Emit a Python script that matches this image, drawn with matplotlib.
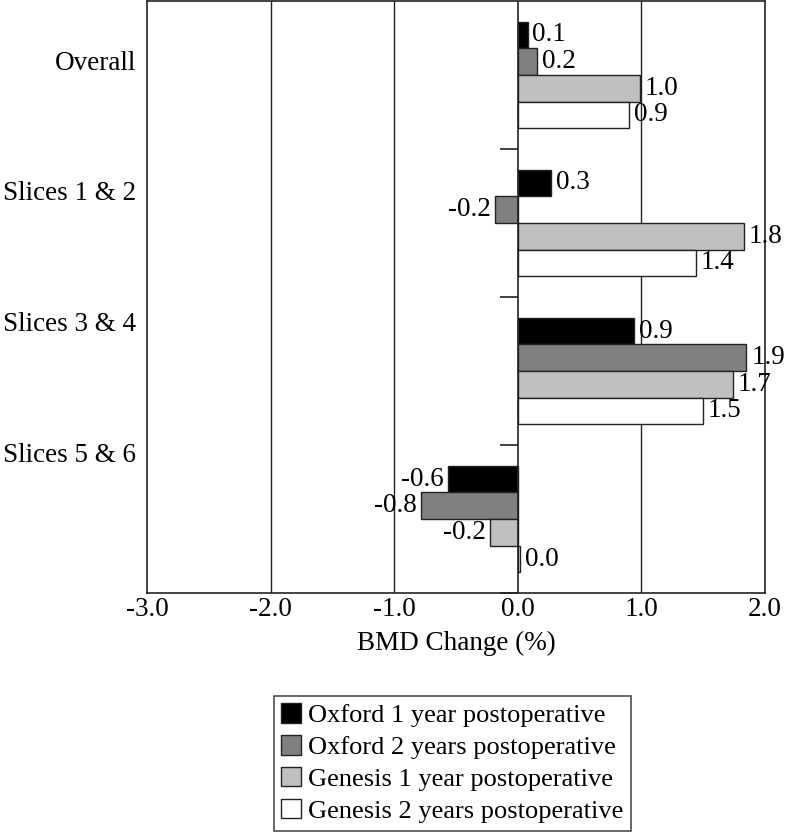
import numpy as np
import matplotlib.pyplot as plt
from matplotlib.patches import Patch

plt.rcParams['font.family'] = ['Liberation Serif', 'DejaVu Serif']
plt.rcParams['font.size'] = 19.5

categories = ['Overall', 'Slices 1 & 2', 'Slices 3 & 4', 'Slices 5 & 6']
series = ['Oxford 1 year postoperative', 'Oxford 2 years postoperative',
          'Genesis 1 year postoperative', 'Genesis 2 years postoperative']
oxford_1y = [0.08, 0.27, 0.94, -0.56]
oxford_2y = [0.16, -0.18, 1.85, -0.78]
genesis_1y = [0.99, 1.83, 1.74, -0.22]
genesis_2y = [0.90, 1.44, 1.50, 0.02]
colors = ['#000000', '#808080', '#c0c0c0', '#ffffff']

fig = plt.figure(figsize=(7.86, 8.33), dpi=100)
ax = fig.add_axes([0.187, 0.288, 0.786, 0.711])

bar_h = 0.18
start = 0.14
for j, vals in enumerate([oxford_1y, oxford_2y, genesis_1y, genesis_2y]):
    y = np.arange(len(categories)) + start + bar_h * (j + 0.5)
    ax.barh(y, vals, height=bar_h, color=colors[j], edgecolor='#222222',
            linewidth=1, zorder=3)
    for yy, v in zip(y, vals):
        if v >= 0:
            ax.text(v + 0.04, yy, f'{v:.1f}', ha='left', va='center', zorder=4)
        else:
            ax.text(v - 0.04, yy, f'{v:.1f}', ha='right', va='center', zorder=4)

ax.set_xlim(-3, 2)
ax.set_ylim(4, 0)
ax.set_xticks(np.arange(-3, 2.01, 1.0))
ax.set_xticklabels([f'{t:.1f}' for t in np.arange(-3, 2.01, 1.0)])
ax.tick_params(axis='x', length=0, pad=3)
ax.set_yticks([])

# vertical gridlines and the zero axis with its group ticks
for gx in [-2, -1, 1]:
    ax.axvline(gx, color='#222222', lw=1, zorder=1)
ax.axvline(0, color='#222222', lw=1.2, zorder=5)
ax.hlines(np.arange(1, 5), -0.14, 0, color='#222222', lw=1.2, zorder=5,
          clip_on=False)

for s in ax.spines.values():
    s.set_color('#222222')
    s.set_linewidth(1.2)

# category labels (evenly spread down the left side)
for i, c in enumerate(categories):
    ax.text(-3.09, 0.42 + 0.883 * i, c, ha='right', va='center')

ax.set_xlabel('BMD Change (%)', labelpad=6)

handles = [Patch(facecolor=colors[j], edgecolor='#222222', lw=1) for j in range(4)]
leg = fig.legend(handles, series, loc='upper left', bbox_to_anchor=(0.348, 0.165),
                 fontsize=19, handlelength=0.75, handleheight=0.75, handletextpad=0.25,
                 labelspacing=0.3, borderpad=0.3, fancybox=False, frameon=True,
                 edgecolor='#222222', borderaxespad=0)
leg.get_frame().set_linewidth(1.2)

plt.savefig('out.png', dpi=100)
